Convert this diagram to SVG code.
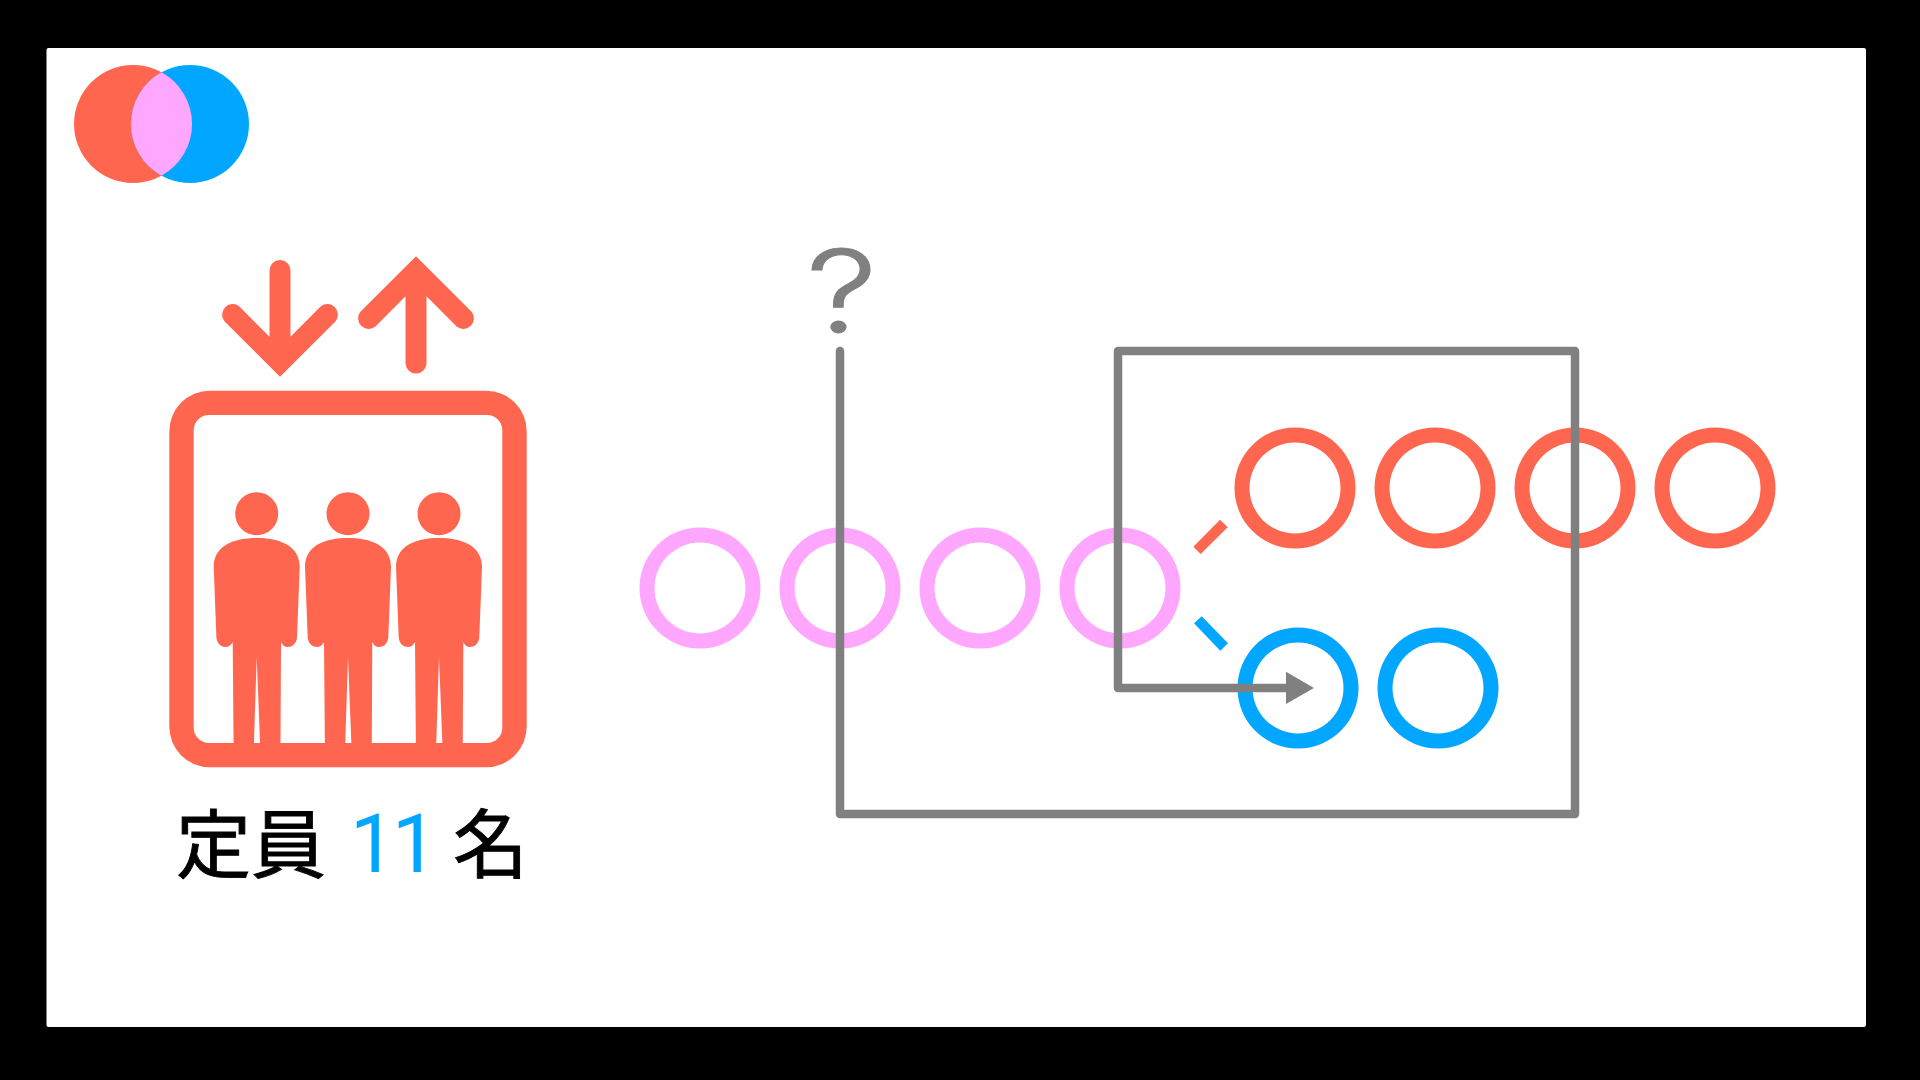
<svg xmlns="http://www.w3.org/2000/svg" width="1920" height="1080" viewBox="0 0 1920 1080">
<style>
.pink{fill:#FFA6FF}
.red{fill:#FF664F}
.blue{fill:#00A6FF}
.ring{fill-rule:evenodd}
.conn{fill:none;stroke:#808080;stroke-width:8.5;stroke-linejoin:round;stroke-linecap:round}
.cjk{font-family:"Noto Sans CJK JP","Liberation Sans",sans-serif;font-size:75px;fill:#000;stroke:#000;stroke-width:.9px;font-weight:400}
</style>
<defs>
<path id="ring" class="ring" d="M-60.5 0a60.5 60.5 0 1 0 121 0a60.5 60.5 0 1 0-121 0ZM-45.5 0a45.5 45.5 0 1 0 91 0a45.5 45.5 0 1 0-91 0Z"/>
<g id="person" class="red">
<circle cx="0" cy="513.7" r="21.5"/>
<path d="M-43 567C-43 545-22 538 0 538C22 538 43 545 43 567L40.3 637C40 644 35 647 31 647C28 647 25.5 645 24.3 642L23.7 760H4L0 657L-3.3 760H-23L-24 642C-25.500 645-28 647-31 647C-35 647-40 644-40.3 637Z"/>
</g>
</defs>
<rect width="1920" height="1080" fill="#000"/>
<rect x="46.5" y="48" width="1819.5" height="979" rx="2" fill="#fff"/>
<g id="logo">
<circle cx="133" cy="124" r="59" class="red"/>
<circle cx="190" cy="124" r="59" class="blue"/>
<path d="M161.500 72.300A59 59 0 0 1 161.500 175.700A59 59 0 0 1 161.500 72.300Z" class="pink"/>
</g>
<g id="elevator">
<path class="red ring" d="M210 390.700H486A40.700 40.700 0 0 1 526.700 431.400V726.600A40.700 40.700 0 0 1 486 767.300H210A40.700 40.700 0 0 1 169.300 726.600V431.400A40.700 40.700 0 0 1 210 390.700ZM209 415A15.300 15.300 0 0 0 193.700 430.300V727.700A15.300 15.300 0 0 0 209 743H487A15.300 15.300 0 0 0 502.300 727.700V430.300A15.300 15.300 0 0 0 487 415Z"/>
<use href="#person" x="256.7"/>
<use href="#person" x="348"/>
<use href="#person" x="439"/>
</g>
<g id="arrow-down">
<path class="red" d="M269.500 270.500A10.500 10.500 0 0 1 290.500 270.500V336.700L320.600 306.600A10.500 10.500 0 0 1 335.400 321.400L280 376.800L224.600 321.400A10.500 10.500 0 0 1 239.400 306.600L269.500 336.700Z"/>
</g>
<g id="arrow-up">
<path class="red" d="M416 256.200L471.400 311.600A10.500 10.500 0 0 1 456.600 326.400L426.500 296.300V363A10.500 10.500 0 0 1 405.500 363V296.300L375.400 326.400A10.500 10.500 0 0 1 360.600 311.600Z"/>
</g>
<g id="capacity-label">
<text class="cjk" x="176" y="872">定員</text>
<text x="350 392" y="872" font-family="Roboto, sans-serif" font-size="81" class="blue">11</text>
<text class="cjk" x="453" y="872">名</text>
</g>
<g id="pink-row" class="pink">
<use href="#ring" x="700" y="588"/>
<use href="#ring" x="840" y="588"/>
<use href="#ring" x="980" y="588"/>
<use href="#ring" x="1120" y="588"/>
</g>
<g id="red-row" class="red">
<use href="#ring" x="1295" y="488"/>
<use href="#ring" x="1435" y="488"/>
<use href="#ring" x="1575" y="488"/>
<use href="#ring" x="1715" y="488"/>
</g>
<g id="blue-row" class="blue">
<use href="#ring" x="1298" y="688"/>
<use href="#ring" x="1438" y="688"/>
</g>
<g id="split-marks">
<path class="red" d="M1193.300 546.700L1200.700 554L1227.700 527.300L1220 519.700Z"/>
<path class="blue" d="M1194 623.300L1201.700 616.300L1228 643.300L1220.300 650.700Z"/>
</g>
<g id="connectors">
<path class="conn" d="M840 351V814H1575V351H1118V688H1290"/>
<path d="M1286 671.700L1314 688L1286 704Z" fill="#808080"/>
</g>
<g id="question">
<text transform="translate(806 332) scale(1.25 1)" font-family="Inter, sans-serif" font-weight="300" font-size="114" fill="#808080" stroke="#808080" stroke-width="1" stroke-linejoin="round">?</text>
</g>
</svg>
